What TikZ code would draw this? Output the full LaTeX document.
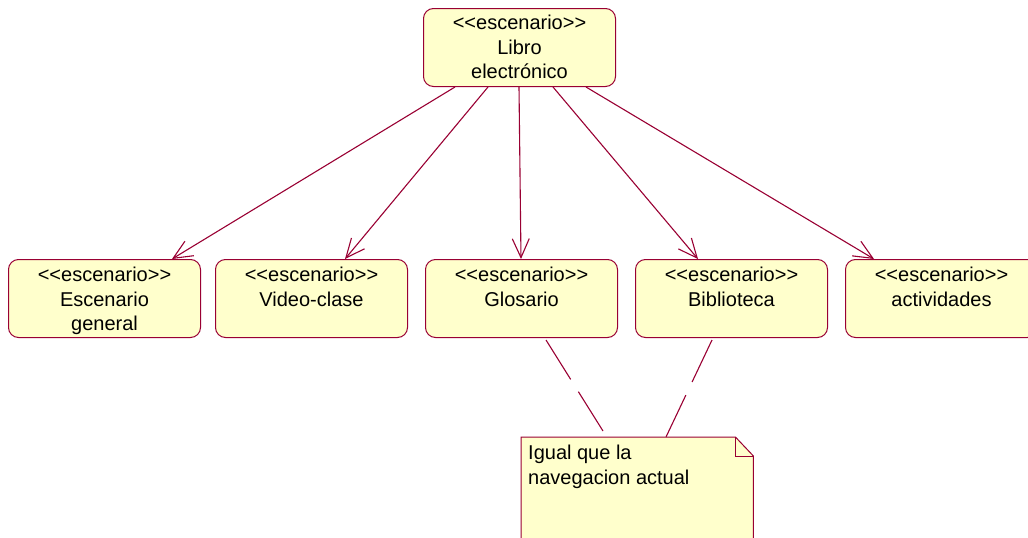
\documentclass[tikz,border=0pt]{standalone}
\usepackage{fontspec}
\setmainfont{Liberation Sans}
\usetikzlibrary{arrows.meta}
\definecolor{umlborder}{RGB}{153,0,51}
\definecolor{umlfill}{RGB}{255,255,204}
% stereotype guillemets written as two separate characters
\newcommand{\umlstereo}[1]{<\kern0pt<#1>\kern0pt>}

\begin{document}
\begin{tikzpicture}[x=1pt,y=-1pt,
  stepbox/.style={draw=umlborder, fill=umlfill, line width=1pt,
    rounded corners=10pt, minimum width=192pt, minimum height=78pt,
    inner sep=0pt, anchor=north west},
  boxtext/.style={anchor=north, align=center, inner sep=0pt,
    font=\fontsize{20}{24.5}\selectfont},
  notetext/.style={anchor=north west, align=left, inner sep=0pt,
    font=\fontsize{20}{24.5}\selectfont},
  link/.style={draw=umlborder, line width=1.1pt,
    -{Straight Barb[length=19pt,width=17pt]}},
  notelink/.style={draw=umlborder, line width=1.1pt,
    dash pattern=on 46.5pt off 14.5pt},
  noteshape/.style={draw=umlborder, fill=umlfill, line width=1pt}
]
\useasboundingbox (0,0) rectangle (1028,538);
\clip (0,0) rectangle (1028,538);

% scenario boxes
\node[stepbox] (libro) at (423,8) {};
\node[stepbox] (esc)   at (8,259) {};
\node[stepbox] (video) at (215,259) {};
\node[stepbox] (glos)  at (425,259) {};
\node[stepbox] (biblio) at (635,259) {};
\node[stepbox] (activ) at (845,259) {};

% box captions
\node[boxtext] (librotxt) at ([yshift=-7pt]libro.north) {\umlstereo{escenario}\\Libro\\electrónico};
\node[boxtext] (esctxt)   at ([yshift=-8pt]esc.north)   {\umlstereo{escenario}\\Escenario\\general};
\node[boxtext] (videotxt) at ([yshift=-8pt]video.north) {\umlstereo{escenario}\\Video-clase};
\node[boxtext] (glostxt)  at ([yshift=-8pt]glos.north)  {\umlstereo{escenario}\\Glosario};
\node[boxtext] (bibliotxt) at ([yshift=-8pt]biblio.north) {\umlstereo{escenario}\\Biblioteca};
\node[boxtext] (activtxt) at ([yshift=-8pt]activ.north) {\umlstereo{escenario}\\actividades};

% navigation links
\draw[link] ([xshift=32pt]libro.south west)  -- ([xshift=164pt]esc.north west);
\draw[link] ([xshift=65pt]libro.south west)  -- ([xshift=130pt]video.north west);
\draw[link] ([xshift=96pt]libro.south west)  -- ([xshift=96pt]glos.north west);
\draw[link] ([xshift=130pt]libro.south west) -- ([xshift=63pt]biblio.north west);
\draw[link] ([xshift=163pt]libro.south west) -- ([xshift=29pt]activ.north west);

% note with folded corner
\node[anchor=north west, minimum width=232pt, minimum height=110pt, inner sep=0pt] (nota) at (521,437) {};
\draw[noteshape] (nota.north west) -- ([xshift=-18pt]nota.north east)
  -- ([yshift=-19pt]nota.north east) -- (nota.south east)
  -- (nota.south west) -- cycle;
\draw[noteshape, fill=none] ([xshift=-18pt]nota.north east) |- ([yshift=-19pt]nota.north east);
\node[notetext] (notatxt) at ([xshift=7pt,yshift=-8pt]nota.north west) {Igual que la\\navegacion actual};

% note anchors
\draw[notelink] ([xshift=121pt,yshift=-2pt]glos.south west) -- ([xshift=82pt,yshift=6pt]nota.north west);
\draw[notelink] ([xshift=77pt,yshift=-2pt]biblio.south west) -- ([xshift=145pt]nota.north west);
\end{tikzpicture}
\end{document}
